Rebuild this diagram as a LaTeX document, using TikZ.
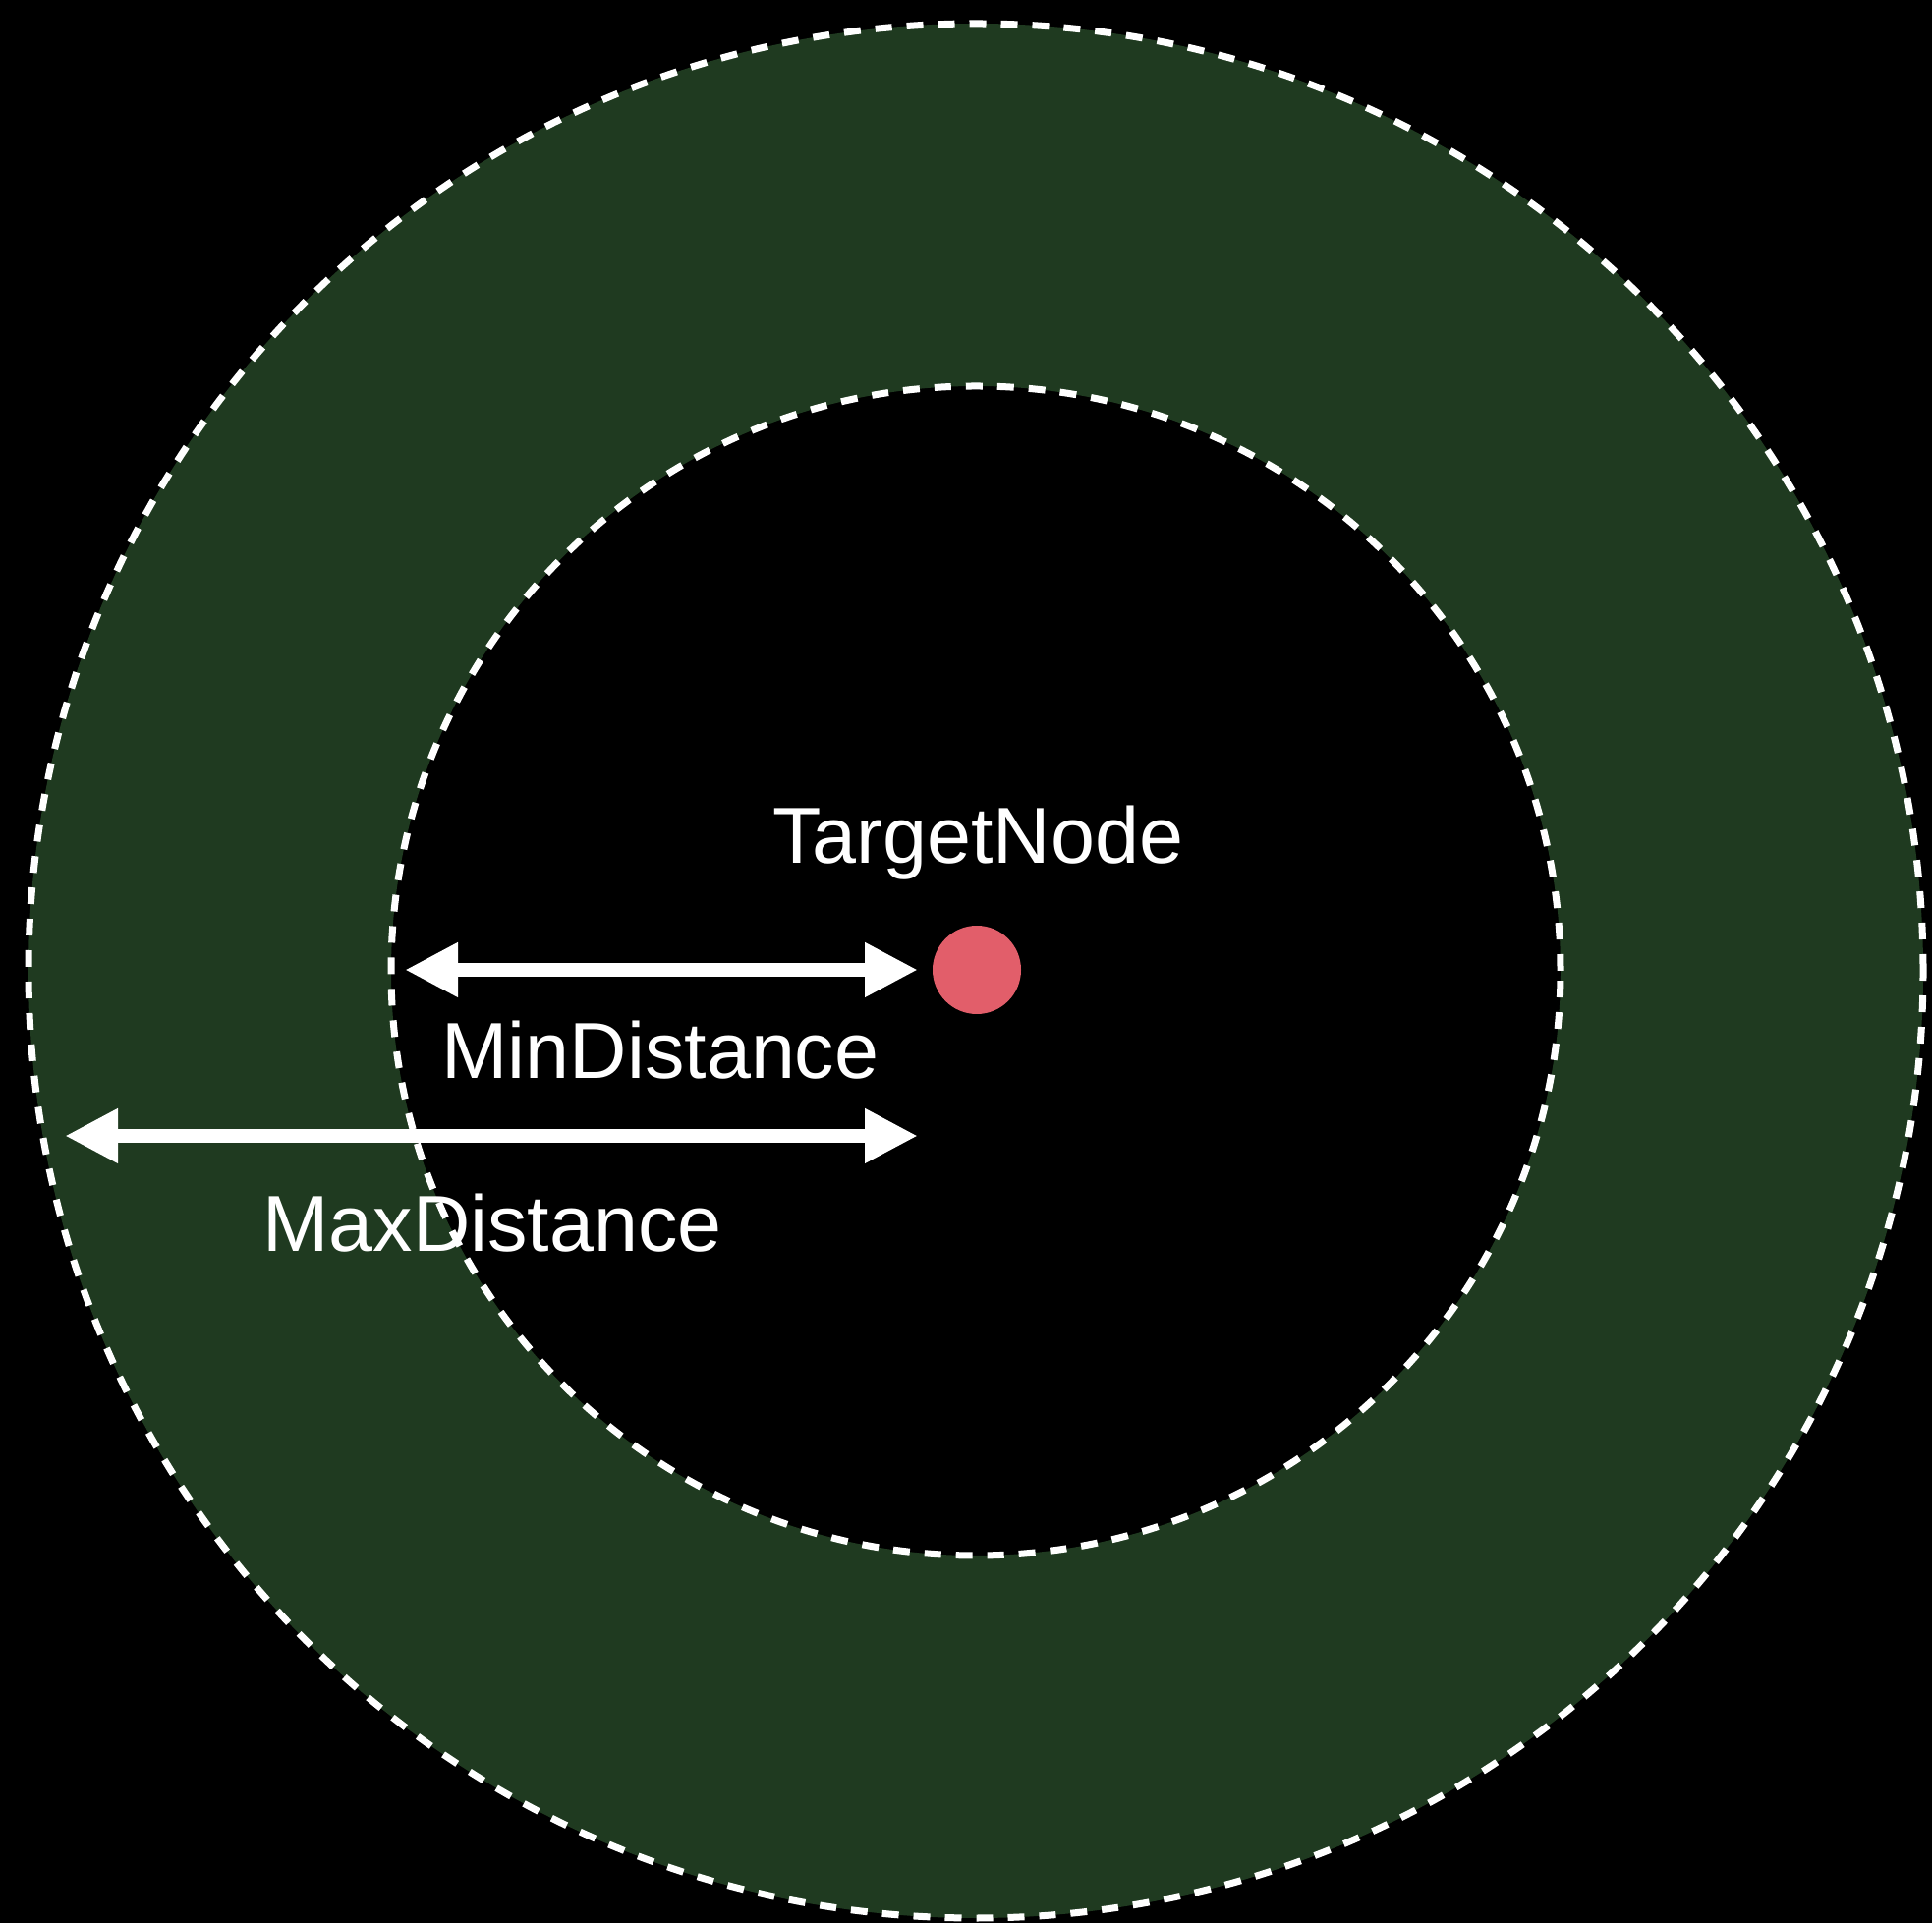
\documentclass[tikz,border=0pt]{standalone}
\usepackage{fontspec}
\setmainfont{Liberation Sans}
\usetikzlibrary{arrows.meta,positioning}

\definecolor{ringgreen}{RGB}{31,58,32}
\definecolor{dotred}{RGB}{226,94,106}

\begin{document}
\begin{tikzpicture}[
  font=\fontsize{23}{27}\selectfont,
  ring/.style={draw=white, line width=.07cm, dash pattern=on .17cm off .15cm},
  span/.style={
    {Triangle[length=5.4mm,width=5.2mm]}-{Triangle[length=5.4mm,width=5.2mm]},
    draw=white, line width=.14cm
  },
  dimtext/.style={text=white, anchor=base, inner sep=0pt}
]

% background and frame
\fill[black] (0,0) rectangle (19.66,19.57);
\useasboundingbox (0,0) rectangle (19.66,19.57);

\coordinate (centre) at (9.93,9.69);

% green band between the two radii
\fill[ringgreen, even odd rule] (centre) circle (9.64) (centre) circle (5.95);
\draw[ring] (centre) circle (9.64);
\draw[ring] (centre) circle (5.95);

\node[circle, fill=dotred, minimum size=.9cm, inner sep=0pt] (target) at (9.94,9.70) {};

\coordinate (min-left) at (4.12,9.70);
\coordinate (min-right) at (9.34,9.70);
\coordinate (max-left) at (0.66,8.01);
\coordinate (max-right) at (9.34,8.01);

\draw[span] (min-left) -- (min-right);
\draw[span] (max-left) -- (max-right);

\node[dimtext] (target-text) at (9.95,10.78) {TargetNode};
\node[dimtext] (min-text) at (6.72,8.59) {MinDistance};
\node[dimtext] (max-text) at (5.01,6.83) {MaxDistance};
\end{tikzpicture}
\end{document}
